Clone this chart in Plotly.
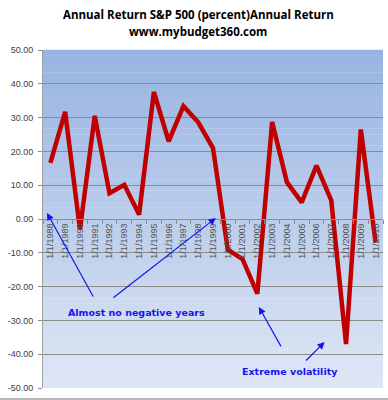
import plotly.graph_objects as go

years = [str(y) for y in range(1988, 2011)]
labels = ["1/1/" + y for y in years]
returns = [16.6, 31.7, -3.1, 30.5, 7.6, 10.1, 1.3, 37.6, 23.0, 33.4, 28.6, 21.0,
           -9.1, -11.9, -22.1, 28.7, 10.9, 4.9, 15.8, 5.5, -37.0, 26.5, -7.0]
y_ticks = [50, 40, 30, 20, 10, 0, -10, -20, -30, -40, -50]

fig = go.Figure()
fig.add_trace(go.Scatter(x=labels, y=returns, mode="lines",
                         line=dict(color="#C00000", width=4.5), hoverinfo="skip"))

# gradient background strips
top = (152, 180, 226)
bot = (222, 230, 244)
n = 60
shapes = []
for k in range(n):
    t = k / (n - 1)
    c = tuple(round(top[j] + (bot[j] - top[j]) * t) for j in range(3))
    shapes.append(dict(type="rect", xref="x domain", yref="y domain",
                       x0=0, x1=1, y0=1 - (k + 1) / n, y1=1 - k / n + 0.001,
                       fillcolor="rgb(%d,%d,%d)" % c, line=dict(width=0), layer="below"))
# outer bottom frame line
shapes.append(dict(type="line", xref="paper", yref="paper", x0=-0.2, x1=1.1,
                   y0=-0.0325, y1=-0.0325, line=dict(color="#A0A0A0", width=1.5)))

blue = "#1414F0"
ann = []
arrows = [(-0.23, 1.8, 47, 85), (11.19, 0.3, -104, 81), (14.1, -26.0, 23, 41), (18.55, -36.4, -20, 20)]
for (xi, yv, ax, ay) in arrows:
    ann.append(dict(x=xi, y=yv, xref="x", yref="y", ax=ax, ay=ay, axref="pixel", ayref="pixel",
                    showarrow=True, arrowhead=2, arrowsize=1.2, arrowwidth=1.2, arrowcolor=blue, text=""))
ann.append(dict(x=5.85, y=-27.8, xref="x", yref="y", text="<b>Almost no negative years</b>",
                showarrow=False, font=dict(family="DejaVu Sans", size=9.5, color=blue)))
ann.append(dict(x=16.22, y=-45.0, xref="x", yref="y", text="<b>Extreme volatility</b>",
                showarrow=False, font=dict(family="DejaVu Sans", size=9.5, color=blue)))
# title lines
ann.append(dict(x=0.456, y=1.1065, xref="paper", yref="paper", xanchor="center", yanchor="middle",
                text="<b>Annual Return S&P 500 (percent)Annual Return</b>", showarrow=False,
                font=dict(family="Open Sans", size=11.5, color="black")))
ann.append(dict(x=0.456, y=1.056, xref="paper", yref="paper", xanchor="center", yanchor="middle",
                text="<b>www.mybudget360.com</b>", showarrow=False,
                font=dict(family="Open Sans", size=11.5, color="black")))

fig.update_layout(
    width=388, height=400,
    margin=dict(l=43, r=5, t=50, b=12),
    paper_bgcolor="white", plot_bgcolor="rgba(0,0,0,0)",
    showlegend=False,
    shapes=shapes, annotations=ann,
    xaxis=dict(type="category", anchor="free", position=0.5, showgrid=False, automargin=False,
               showline=True, linecolor="#8C8C8C", linewidth=1,
               ticks="outside", tickson="boundaries", ticklen=4, tickcolor="#8C8C8C",
               tickangle=-90, tickfont=dict(family="Liberation Sans", size=9, color="#505050"),
               range=[-0.5, len(labels) - 0.5]),
    yaxis=dict(range=[-50, 50], tickvals=y_ticks, ticktext=["%.2f" % v for v in y_ticks],
               automargin=False, ticklabelstandoff=3,
               showgrid=True, gridcolor="#8C8C8C", gridwidth=1, zeroline=False,
               showline=True, linecolor="#A0A0A0", ticks="outside", ticklen=4, tickcolor="#8C8C8C",
               tickfont=dict(family="Liberation Sans", size=9, color="#404040")),
)
fig.write_html("out.html", config={"displayModeBar": False},
               post_script="document.body.style.margin='0';")
